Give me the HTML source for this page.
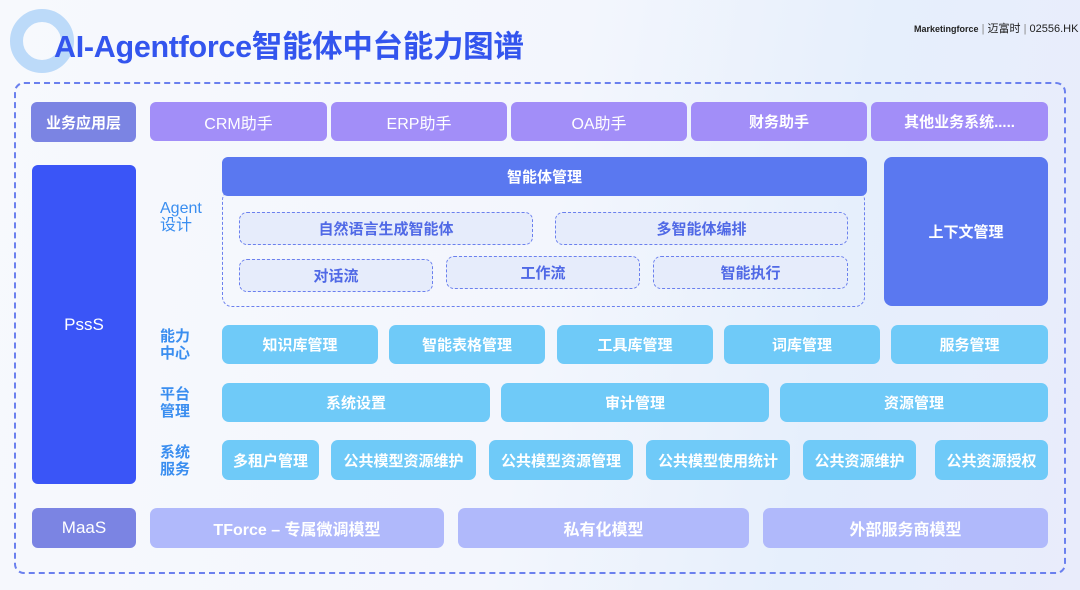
<!DOCTYPE html>
<html><head><meta charset="utf-8"><style>
*{margin:0;padding:0;box-sizing:border-box}
body{width:1080px;height:590px;overflow:hidden;position:relative;font-family:"Liberation Sans","Noto Sans CJK SC",sans-serif;background:linear-gradient(100deg,#f7f9fd 0%,#f3f6fd 50%,#e6effc 75%,#e9ecfb 100%)}
.b{position:absolute;display:flex;align-items:center;justify-content:center;color:#fff;font-weight:bold;font-size:15px;border-radius:6px}
.n{font-weight:normal}
.p{background:#a28ef8}
.c{background:#6fcaf8;border-radius:7px}
.m{background:#b0b9fb;border-radius:7px}
.d{position:absolute;display:flex;align-items:center;justify-content:center;border:1.5px dashed #6b80ee;border-radius:8px;background:#e6ecfb;color:#5069e6;font-weight:bold;font-size:15px}
.l{position:absolute;color:#3a8ef0;font-weight:bold;font-size:15px;line-height:17px}
</style></head><body>
<div style="position:absolute;left:10px;top:9px;width:64px;height:64px;border-radius:50%;border:13px solid #bcdaf9"></div>
<div style="position:absolute;left:54px;top:22px;font-size:30.5px;font-weight:bold;color:#3355ee;letter-spacing:-0.3px;white-space:nowrap">AI-Agentforce智能体中台能力图谱</div>
<div style="position:absolute;left:914px;top:20px;font-size:11px;color:#222;white-space:nowrap"><b style="font-size:9px">Marketingforce</b><span style="color:#888"> | </span>迈富时<span style="color:#888"> | </span>02556.HK</div>
<div style="position:absolute;left:14px;top:82px;width:1052px;height:492px;border:2px dashed #6b80ee;border-radius:10px"></div>

<div class="b" style="left:31px;top:102px;width:105px;height:40px;background:#7b84e3">业务应用层</div>
<div class="b p n" style="left:150px;top:102px;width:177px;height:39px;font-size:16px">CRM助手</div>
<div class="b p n" style="left:331px;top:102px;width:176px;height:39px;font-size:16px">ERP助手</div>
<div class="b p n" style="left:511px;top:102px;width:176px;height:39px;font-size:16px">OA助手</div>
<div class="b p" style="left:691px;top:102px;width:176px;height:39px">财务助手</div>
<div class="b p" style="left:871px;top:102px;width:177px;height:39px">其他业务系统.....</div>

<div class="b n" style="left:32px;top:165px;width:104px;height:319px;background:#3a55f7;font-size:17px">PssS</div>

<div style="position:absolute;left:222px;top:190px;width:643px;height:117px;border:1.5px dashed #6b80ee;border-radius:10px"></div>
<div class="b" style="left:222px;top:157px;width:645px;height:39px;background:#5a78f0">智能体管理</div>
<div class="b" style="left:884px;top:157px;width:164px;height:149px;background:#5a78f0;border-radius:8px">上下文管理</div>
<div class="d" style="left:239px;top:212px;width:294px;height:33px">自然语言生成智能体</div>
<div class="d" style="left:555px;top:212px;width:293px;height:33px">多智能体编排</div>
<div class="d" style="left:239px;top:259px;width:194px;height:33px">对话流</div>
<div class="d" style="left:446px;top:256px;width:194px;height:33px">工作流</div>
<div class="d" style="left:653px;top:256px;width:195px;height:33px">智能执行</div>

<div class="l" style="left:160px;top:200px;font-weight:normal;font-size:16px">Agent<br>设计</div>
<div class="l" style="left:160px;top:328px">能力<br>中心</div>
<div class="l" style="left:160px;top:386px">平台<br>管理</div>
<div class="l" style="left:160px;top:444px">系统<br>服务</div>

<div class="b c" style="left:222px;top:325px;width:156px;height:39px">知识库管理</div>
<div class="b c" style="left:389px;top:325px;width:156px;height:39px">智能表格管理</div>
<div class="b c" style="left:557px;top:325px;width:156px;height:39px">工具库管理</div>
<div class="b c" style="left:724px;top:325px;width:156px;height:39px">词库管理</div>
<div class="b c" style="left:891px;top:325px;width:157px;height:39px">服务管理</div>

<div class="b c" style="left:222px;top:383px;width:268px;height:39px">系统设置</div>
<div class="b c" style="left:501px;top:383px;width:268px;height:39px">审计管理</div>
<div class="b c" style="left:780px;top:383px;width:268px;height:39px">资源管理</div>

<div class="b c" style="left:222px;top:440px;width:97px;height:40px">多租户管理</div>
<div class="b c" style="left:331px;top:440px;width:145px;height:40px">公共模型资源维护</div>
<div class="b c" style="left:489px;top:440px;width:144px;height:40px">公共模型资源管理</div>
<div class="b c" style="left:646px;top:440px;width:144px;height:40px">公共模型使用统计</div>
<div class="b c" style="left:803px;top:440px;width:113px;height:40px">公共资源维护</div>
<div class="b c" style="left:935px;top:440px;width:113px;height:40px">公共资源授权</div>

<div class="b n" style="left:32px;top:508px;width:104px;height:40px;background:#7b84e3;font-size:17px">MaaS</div>
<div class="b m" style="left:150px;top:508px;width:294px;height:40px;font-size:16px">TForce – 专属微调模型</div>
<div class="b m" style="left:458px;top:508px;width:291px;height:40px;font-size:16px">私有化模型</div>
<div class="b m" style="left:763px;top:508px;width:285px;height:40px;font-size:16px">外部服务商模型</div>
</body></html>
